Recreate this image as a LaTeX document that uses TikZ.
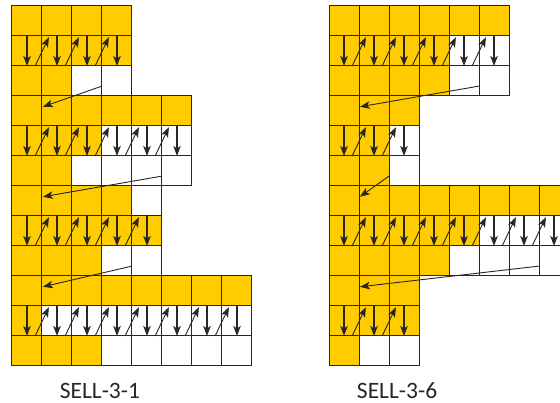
\documentclass[tikz,border=0pt]{standalone}
\usepackage{fontspec}
\setmainfont{Carlito}
\usetikzlibrary{arrows.meta}

\definecolor{sellyellow}{RGB}{255,204,0}
\definecolor{sellline}{RGB}{40,38,38}

\tikzset{
  cellfill/.style={fill=sellyellow},
  cellline/.style={draw=sellline, line width=1pt},
  downarrow/.style={sellline, line width=1.4pt, -{Stealth[length=10pt,width=7.5pt,inset=2.5pt]}},
  diagarrow/.style={sellline, line width=0.9pt, -{Stealth[length=10pt,width=7.5pt,inset=2.5pt]}},
  jumparrow/.style={sellline, line width=0.9pt, -{Stealth[length=10pt,width=7.5pt,inset=2.5pt]}},
  sellname/.style={font=\fontsize{23.5}{28}\selectfont, text=black!85, anchor=base, inner sep=0pt}
}

\begin{document}
\begin{tikzpicture}[x=30pt,y=30pt]
    \clip (-0.4,0.2) rectangle (18.267,-13.233);
    \fill[white] (-0.4,0.2) rectangle (18.267,-13.233);
    % width / filled cells of the three rows of each chunk
    \foreach \gx/\lx/\lab/\chunks [count=\g] in {
        0/2.93/SELL-3-1/{4/4/4/2,6/6/3/2,5/4/5/3,8/8/1/3},
        10.567/2.27/SELL-3-6/{6/6/4/4,3/3/2/2,8/8/5/4,3/3/3/1}} {
      \begin{scope}[shift={(\gx,0)}]
        % cells
        \foreach \w/\ra/\rb/\rc [count=\k from 0] in \chunks {
          \foreach \n [count=\r from 0] in {\ra,\rb,\rc}
            \fill[cellfill] (0,{-3*\k-\r}) rectangle (\n,{-3*\k-\r-1});
          \foreach \r in {0,1,2}
            \foreach \c in {1,...,\w}
              \draw[cellline] ({\c-1},{-3*\k-\r}) rectangle ++(1,-1);
        }
        % traversal order
        \foreach \w/\ra/\rb/\rc [count=\k from 0] in \chunks {
          \foreach \c in {1,...,\w}
            \draw[downarrow] ({\c-0.5},{-3*\k-1}) -- ++(0,-1);
          \foreach \c in {2,...,\w}
            \draw[diagarrow] ({\c-1.23},{-3*\k-2}) -- ({\c-0.77},{-3*\k-1.04});
          \ifnum\k<3
            \draw[jumparrow] ({\w-1},{-3*\k-2.67}) -- (1.03,{-3*\k-3.36});
          \fi
        }
        \node[sellname] (label\g) at (\lx,-13.07) {\lab};
      \end{scope}
    }
\end{tikzpicture}
\end{document}
